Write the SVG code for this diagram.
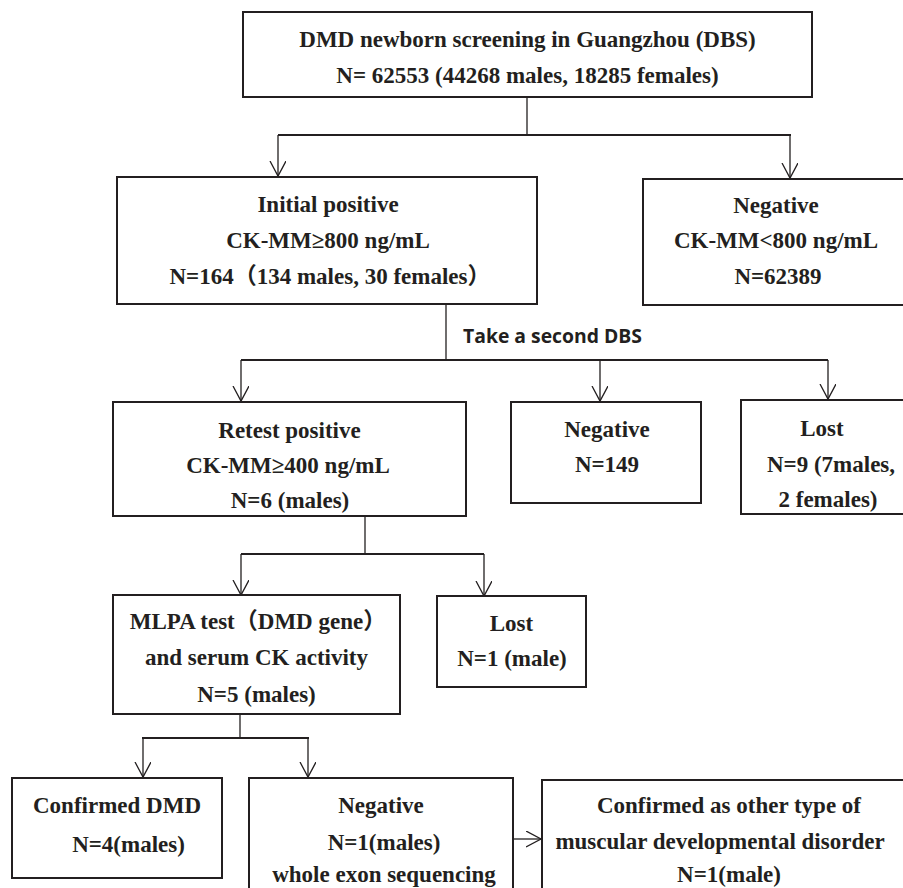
<svg xmlns="http://www.w3.org/2000/svg" width="903" height="888" viewBox="0 0 903 888">
<style>
.box{fill:#fff;stroke:#231f20;stroke-width:2}
.t{font-family:"Liberation Serif","Noto Sans CJK SC",serif;font-weight:bold;font-size:23px;fill:#231f20;text-anchor:middle}
.lbl{font-family:"Open Sans","Liberation Sans",sans-serif;font-weight:bold;font-size:19px;fill:#231f20}
.v{stroke:#231f20;stroke-width:1.3;fill:none}
.h{stroke:#231f20;stroke-width:2;fill:none}
</style>
<defs>
<marker id="ah" markerUnits="userSpaceOnUse" markerWidth="20" markerHeight="20" refX="15" refY="8" orient="auto" viewBox="0 0 20 20">
<path d="M0,0 L15,8 L0,16" fill="none" stroke="#231f20" stroke-width="1.3"/>
</marker>
</defs>
<rect width="903" height="888" fill="#fff"/>
<g id="connectors">
<path class="v" d="M527,97 L527,135"/>
<path class="h" d="M278,135 L791,135"/>
<path class="v" d="M278,135 L278,176" marker-end="url(#ah)"/>
<path class="v" d="M790,135 L790,178" marker-end="url(#ah)"/>
<path class="v" d="M446,304 L446,360"/>
<path class="h" d="M241,360 L828,360"/>
<path class="v" d="M241,360 L241,401" marker-end="url(#ah)"/>
<path class="v" d="M600,360 L600,401" marker-end="url(#ah)"/>
<path class="v" d="M828,360 L828,399" marker-end="url(#ah)"/>
<path class="v" d="M365,516 L365,554"/>
<path class="h" d="M241,554 L484,554"/>
<path class="v" d="M241,554 L241,595" marker-end="url(#ah)"/>
<path class="v" d="M484,554 L484,596" marker-end="url(#ah)"/>
<path class="v" d="M240,714 L240,738"/>
<path class="h" d="M142,738 L309,738"/>
<path class="v" d="M143,738 L143,777" marker-end="url(#ah)"/>
<path class="v" d="M308,738 L308,777" marker-end="url(#ah)"/>
<path class="v" d="M514,839 L541,839" marker-end="url(#ah)"/>
<text class="lbl" x="463" y="343" textLength="179" lengthAdjust="spacingAndGlyphs">Take a second DBS</text>
</g>
<g id="screening">
<rect class="box" x="243" y="12" width="569" height="85"/>
<text class="t" x="527.5" y="47">DMD newborn screening in Guangzhou (DBS)</text>
<text class="t" x="527.5" y="83">N= 62553 (44268 males, 18285 females)</text>
</g>
<g id="initial-positive">
<rect class="box" x="117" y="177" width="420" height="127"/>
<text class="t" x="328" y="212">Initial positive</text>
<text class="t" x="328" y="248">CK-MM≥800 ng/mL</text>
<text class="t" x="330" y="284">N=164（134 males, 30 females）</text>
</g>
<g id="negative-1">
<rect class="box" x="643" y="179" width="270" height="126"/>
<text class="t" x="776" y="213">Negative</text>
<text class="t" x="776" y="248">CK-MM&lt;800 ng/mL</text>
<text class="t" x="778" y="284">N=62389</text>
</g>
<g id="retest-positive">
<rect class="box" x="113" y="402" width="353" height="114"/>
<text class="t" x="289.5" y="438">Retest positive</text>
<text class="t" x="288" y="473">CK-MM≥400 ng/mL</text>
<text class="t" x="290" y="508">N=6 (males)</text>
</g>
<g id="negative-2">
<rect class="box" x="511" y="402" width="190" height="101"/>
<text class="t" x="607" y="437">Negative</text>
<text class="t" x="607" y="472">N=149</text>
</g>
<g id="lost-1">
<rect class="box" x="741" y="400" width="175" height="114"/>
<text class="t" x="822" y="436">Lost</text>
<text class="t" x="831" y="472">N=9 (7males,</text>
<text class="t" x="828" y="507">2 females)</text>
</g>
<g id="mlpa">
<rect class="box" x="113" y="595" width="287" height="119"/>
<text class="t" x="258" y="629">MLPA test（DMD gene）</text>
<text class="t" x="256.5" y="665">and serum CK activity</text>
<text class="t" x="256.5" y="702">N=5 (males)</text>
</g>
<g id="lost-2">
<rect class="box" x="437" y="596" width="149" height="91"/>
<text class="t" x="511.5" y="631">Lost</text>
<text class="t" x="512" y="666">N=1 (male)</text>
</g>
<g id="confirmed-dmd">
<rect class="box" x="12" y="778" width="210" height="100"/>
<text class="t" x="117" y="813">Confirmed DMD</text>
<text class="t" x="128.5" y="852">N=4(males)</text>
</g>
<g id="negative-3">
<rect class="box" x="249" y="778" width="264" height="130"/>
<text class="t" x="381" y="813">Negative</text>
<text class="t" x="384" y="850">N=1(males)</text>
<text class="t" x="384" y="882">whole exon sequencing</text>
</g>
<g id="other-disorder">
<rect class="box" x="542" y="780" width="370" height="130"/>
<text class="t" x="729" y="813">Confirmed as other type of</text>
<text class="t" x="720" y="849">muscular developmental disorder</text>
<text class="t" x="729" y="882">N=1(male)</text>
</g>
</svg>
